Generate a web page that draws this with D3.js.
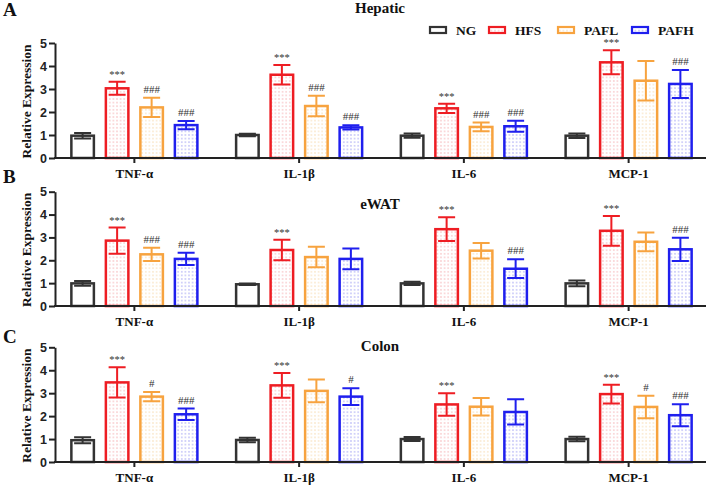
<!DOCTYPE html>
<html lang="en">
<head>
<meta charset="utf-8">
<title>Relative Expression</title>
<script src="https://cdn.jsdelivr.net/npm/d3@7"></script>
<style>
  body { margin: 0; background: #fff; }
  .serif { font-family: "Liberation Serif", "Times New Roman", serif; font-weight: bold; }
</style>
</head>
<body>
<script>
// categories
var genes = ["TNF-α", "IL-1β", "IL-6", "MCP-1"];
var groups = ["NG", "HFS", "PAFL", "PAFH"];
var yTicks = [0, 1, 2, 3, 4, 5];

// mean values, [gene][group]
var hepaticMean = [[0.97, 3.03, 2.20, 1.43], [1.00, 3.62, 2.26, 1.33], [0.97, 2.16, 1.35, 1.38], [0.97, 4.16, 3.36, 3.22]];
var hepaticSD   = [[0.12, 0.28, 0.42, 0.18], [0.05, 0.42, 0.45, 0.09], [0.09, 0.20, 0.19, 0.24], [0.10, 0.52, 0.86, 0.61]];
var hepaticSig  = [["", "***", "###", "###"], ["", "***", "###", "###"], ["", "***", "###", "###"], ["", "***", "", "###"]];

var ewatMean = [[0.99, 2.86, 2.26, 2.06], [0.95, 2.45, 2.14, 2.06], [0.99, 3.36, 2.42, 1.63], [0.99, 3.29, 2.81, 2.48]];
var ewatSD   = [[0.10, 0.57, 0.29, 0.27], [0.03, 0.45, 0.45, 0.45], [0.07, 0.52, 0.34, 0.41], [0.13, 0.65, 0.41, 0.51]];
var ewatSig  = [["", "***", "###", "###"], ["", "***", "", ""], ["", "***", "", "###"], ["", "***", "", "###"]];

var colonMean = [[0.95, 3.47, 2.85, 2.08], [0.96, 3.34, 3.10, 2.85], [1.00, 2.51, 2.41, 2.18], [1.00, 2.96, 2.40, 2.04]];
var colonSD   = [[0.13, 0.66, 0.20, 0.25], [0.10, 0.54, 0.50, 0.36], [0.09, 0.49, 0.38, 0.55], [0.10, 0.41, 0.49, 0.48]];
var colonSig  = [["", "***", "#", "###"], ["", "***", "", "#"], ["", "***", "", ""], ["", "***", "#", "###"]];

var w = 708, h = 487;
var colors = ["#333333", "#ee1d23", "#f7a33f", "#1f1fee"];
var dotColors = [null, "#f3a0a4", "#f5d29e", "#8c8cf2"];

var svg = d3.select("body").append("svg")
    .attr("width", w)
    .attr("height", h);

// dotted fills
var defs = svg.append("defs");
groups.forEach(function(g, i) {
    if (!dotColors[i]) return;
    var p = defs.append("pattern")
        .attr("id", "dots" + i)
        .attr("patternUnits", "userSpaceOnUse")
        .attr("width", 3.6).attr("height", 3.6);
    p.append("rect").attr("width", 3.6).attr("height", 3.6).attr("fill", "#fff");
    p.append("circle").attr("cx", 1.8).attr("cy", 1.8).attr("r", 0.7).attr("fill", dotColors[i]);
});

var axisX = 55;
var x0 = d3.scaleBand().domain(genes).range([52, 711]).padding(0);
var x1 = d3.scaleBand().domain(groups).range([0, x0.bandwidth()])
    .paddingInner(0.275).paddingOuter(0.525);

var panels = [
    { letter: "A", title: "Hepatic", mean: hepaticMean, sd: hepaticSD, sig: hepaticSig, top: 43, bottom: 158, letterY: 16, titleY: 13 },
    { letter: "B", title: "eWAT", mean: ewatMean, sd: ewatSD, sig: ewatSig, top: 191.7, bottom: 306, letterY: 183, titleY: 209 },
    { letter: "C", title: "Colon", mean: colonMean, sd: colonSD, sig: colonSig, top: 347.3, bottom: 462, letterY: 343, titleY: 351 }
];

panels.forEach(function(pn) {
    var y = d3.scaleLinear().domain([0, 5]).range([pn.bottom, pn.top]);
    var g = svg.append("g");

    g.append("text").attr("class", "serif")
        .attr("x", 3).attr("y", pn.letterY)
        .attr("font-size", 19).attr("fill", "#111")
        .text(pn.letter);

    g.append("text").attr("class", "serif")
        .attr("x", 380).attr("y", pn.titleY)
        .attr("text-anchor", "middle")
        .attr("font-size", 15).attr("fill", "#111")
        .text(pn.title);

    // y axis label
    g.append("text").attr("class", "serif")
        .attr("transform", "translate(31," + ((pn.top + pn.bottom) / 2 + 1) + ") rotate(-90)")
        .attr("text-anchor", "middle")
        .attr("font-size", 13.5).attr("fill", "#111")
        .text("Relative Expression");

    // bars
    pn.mean.forEach(function(row, gi) {
        var gx = x0(genes[gi]);
        row.forEach(function(v, k) {
            var bx = gx + x1(groups[k]);
            var bw = x1.bandwidth();
            var cx = bx + bw / 2;
            var sd = pn.sd[gi][k];
            g.append("rect")
                .attr("x", bx + 1.25).attr("y", y(v))
                .attr("width", bw - 2.5).attr("height", y(0) - y(v))
                .attr("fill", dotColors[k] ? "url(#dots" + k + ")" : "#fff")
                .attr("stroke", colors[k]).attr("stroke-width", 2.5);
            // error bar
            var cw = bw * 0.34;
            g.append("path")
                .attr("d", "M" + cx + "," + y(v - sd) + "V" + y(v + sd) +
                    "M" + (cx - cw) + "," + y(v + sd) + "H" + (cx + cw) +
                    "M" + (cx - cw) + "," + y(v - sd) + "H" + (cx + cw))
                .attr("fill", "none")
                .attr("stroke", colors[k]).attr("stroke-width", 2);
            var s = pn.sig[gi][k];
            if (s) {
                g.append("text")
                    .attr("x", cx).attr("y", y(v + sd) - (s === "***" ? 4 : 5))
                    .attr("text-anchor", "middle")
                    .attr("font-family", "Liberation Serif, serif")
                    .attr("font-size", s === "***" ? 10.5 : 11)
                    .attr("fill", "#333")
                    .text(s);
            }
        });
    });

    // y axis
    var yAxis = d3.axisLeft(y).tickValues(yTicks).tickFormat(d3.format("d"))
        .tickSize(6).tickSizeOuter(0);
    var ya = g.append("g").attr("transform", "translate(" + axisX + ",0)").call(yAxis);
    ya.select(".domain").attr("stroke", "#222").attr("stroke-width", 2);
    ya.selectAll(".tick line").attr("stroke", "#222").attr("stroke-width", 2);
    ya.selectAll(".tick text")
        .attr("font-family", "Liberation Sans, Arial, sans-serif")
        .attr("font-weight", "bold").attr("font-size", 12.5)
        .attr("fill", "#222").attr("x", -8);

    // x axis
    var xAxis = d3.axisBottom(x0).tickSize(5).tickSizeOuter(0);
    var xa = g.append("g").attr("transform", "translate(0," + pn.bottom + ")").call(xAxis);
    xa.select(".domain").remove();
    xa.append("line").attr("x1", axisX - 1).attr("x2", 706)
        .attr("stroke", "#222").attr("stroke-width", 2);
    xa.selectAll(".tick line").attr("stroke", "#222").attr("stroke-width", 2);
    xa.selectAll(".tick text")
        .attr("class", "serif")
        .attr("font-size", 13).attr("fill", "#111")
        .attr("y", 11);
});

// legend
var legendX = [430, 489, 558, 632];
var legend = svg.append("g");
groups.forEach(function(gname, i) {
    legend.append("rect")
        .attr("x", legendX[i]).attr("y", 27)
        .attr("width", 16).attr("height", 6)
        .attr("fill", dotColors[i] ? "url(#dots" + i + ")" : "#fff")
        .attr("stroke", colors[i]).attr("stroke-width", 2.2);
    legend.append("text").attr("class", "serif")
        .attr("x", legendX[i] + 26).attr("y", 35)
        .attr("font-size", 13.5).attr("fill", "#111")
        .text(gname);
});
</script>
</body>
</html>
